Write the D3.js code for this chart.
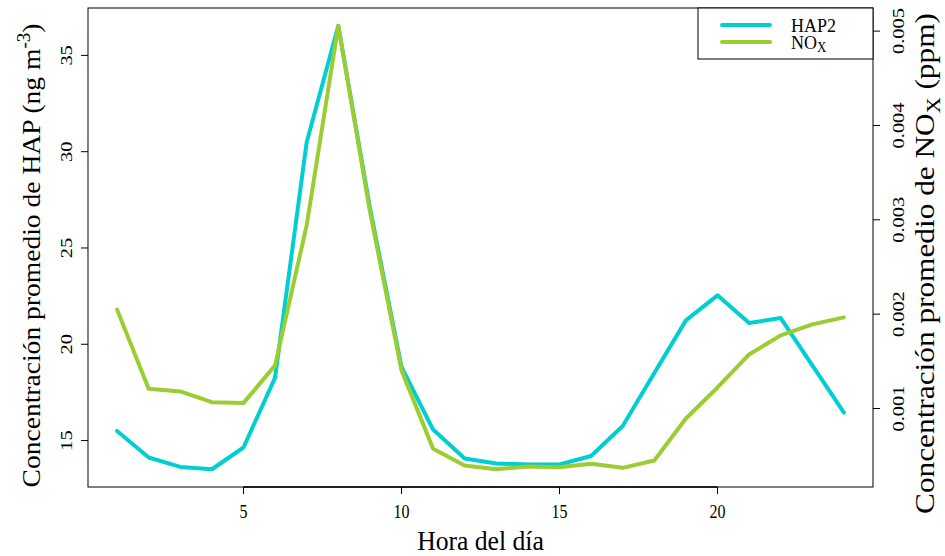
<!DOCTYPE html>
<meta charset="utf-8">
<style>
body { margin: 0; background: white; }
text { font-family: "Liberation Serif", "Times New Roman", serif; fill: black; }
</style>
<script src="https://d3js.org/d3.v7.min.js"></script>
<body>
<div id="chart"></div>
<script>
// data
var hours = [1,2,3,4,5,6,7,8,9,10,11,12,13,14,15,16,17,18,19,20,21,22,23,24];
var hap2 = [15.50,14.12,13.63,13.51,14.64,18.27,30.49,36.54,27.10,18.82,15.57,14.07,
            13.81,13.76,13.76,14.20,15.76,18.51,21.24,22.54,21.10,21.36,18.91,16.45];
var nox = [0.002048,0.001209,0.001181,0.001067,0.001057,0.001457,0.002942,0.005057,
           0.003091,0.001404,0.000573,0.000395,0.000356,0.000385,0.000377,0.000414,
           0.000371,0.000449,0.000894,0.001223,0.001573,0.001775,0.001892,0.001966];
var xTicks = [5,10,15,20];
var hapTicks = [15,20,25,30,35];
var noxTicks = [0.001,0.002,0.003,0.004,0.005];

var W = 945, H = 556;
var margin = {top: 8, right: 72, bottom: 69, left: 88},
    width = W - margin.left - margin.right,
    height = H - margin.top - margin.bottom;

// the original png is a bit stretched vertically, so text is too
var sy = 1.2;

// R style 4% padding on each side
function pad(ext) {
  var d = (ext[1] - ext[0]) * 0.04;
  return [ext[0] - d, ext[1] + d];
}

var svg = d3.select("#chart").append("svg")
    .attr("width", W)
    .attr("height", H);
var g = svg.append("g")
    .attr("transform", "translate(" + margin.left + "," + margin.top + ")");

var x = d3.scaleLinear().domain(pad(d3.extent(hours))).range([0, width]);
var yL = d3.scaleLinear().domain(pad(d3.extent(hap2))).range([height, 0]);
var yR = d3.scaleLinear().domain(pad(d3.extent(nox))).range([height, 0]);

// lines
var hapLine = d3.line().x(function(d, i) { return x(hours[i]); }).y(function(d) { return yL(d); });
var noxLine = d3.line().x(function(d, i) { return x(hours[i]); }).y(function(d) { return yR(d); });

g.append("path").datum(hap2)
  .attr("fill", "none").attr("stroke", "#00CED1").attr("stroke-width", 4)
  .attr("stroke-linejoin", "round").attr("stroke-linecap", "round")
  .attr("d", hapLine);
g.append("path").datum(nox)
  .attr("fill", "none").attr("stroke", "#9ACD32").attr("stroke-width", 4)
  .attr("stroke-linejoin", "round").attr("stroke-linecap", "round")
  .attr("d", noxLine);

// box
g.append("rect")
  .attr("x", 0).attr("y", 0).attr("width", width).attr("height", height)
  .attr("fill", "none").attr("stroke", "black").attr("stroke-width", 1);

// x axis (only spans the ticks, like base R)
var xAxis = g.append("g").attr("transform", "translate(0," + height + ")");
xAxis.append("line")
  .attr("x1", x(xTicks[0])).attr("x2", x(xTicks[xTicks.length - 1]))
  .attr("stroke", "black").attr("stroke-width", 1.5);
xAxis.selectAll(".tk").data(xTicks).enter().append("line")
  .attr("x1", function(d) { return x(d); }).attr("x2", function(d) { return x(d); })
  .attr("y1", 0).attr("y2", 7).attr("stroke", "black");
xAxis.selectAll(".lb").data(xTicks).enter().append("text")
  .attr("transform", function(d) { return "translate(" + x(d) + ",31) scale(1," + sy + ")"; })
  .attr("text-anchor", "middle").style("font-size", "16px")
  .text(function(d) { return d; });

// left axis
var lAxis = g.append("g");
lAxis.selectAll(".tk").data(hapTicks).enter().append("line")
  .attr("x1", -7).attr("x2", 0)
  .attr("y1", function(d) { return yL(d); }).attr("y2", function(d) { return yL(d); })
  .attr("stroke", "black");
lAxis.selectAll(".lb").data(hapTicks).enter().append("text")
  .attr("transform", function(d) { return "translate(-16," + yL(d) + ") rotate(-90) scale(" + sy + ",1)"; })
  .attr("text-anchor", "middle").style("font-size", "17px")
  .text(function(d) { return d; });

// right axis
var rAxis = g.append("g").attr("transform", "translate(" + width + ",0)");
rAxis.selectAll(".tk").data(noxTicks).enter().append("line")
  .attr("x1", 0).attr("x2", 7)
  .attr("y1", function(d) { return yR(d); }).attr("y2", function(d) { return yR(d); })
  .attr("stroke", "black");
rAxis.selectAll(".lb").data(noxTicks).enter().append("text")
  .attr("transform", function(d) { return "translate(30.5," + yR(d) + ") rotate(-90) scale(" + sy + ",1)"; })
  .attr("text-anchor", "middle").style("font-size", "17px")
  .text(function(d) { return d3.format(".3f")(d); });

// axis titles
g.append("text")
  .attr("transform", "translate(" + (width / 2) + "," + (height + 62.5) + ") scale(0.95,1.05)")
  .attr("text-anchor", "middle").style("font-size", "27px")
  .text("Hora del día");

var lt = g.append("text")
  .attr("transform", "translate(-48," + (height / 2 + 8) + ") rotate(-90) scale(1.06,1)")
  .attr("text-anchor", "middle").style("font-size", "26px");
lt.append("tspan").text("Concentración promedio de HAP (ng m");
lt.append("tspan").attr("dy", -10).style("font-size", "18px").text("-3");
lt.append("tspan").attr("dy", 10).text(")");

var rt = g.append("text")
  .attr("transform", "translate(" + (width + 61) + "," + (height / 2 + 16) + ") rotate(-90) scale(1.16,1)")
  .attr("text-anchor", "middle").style("font-size", "27px");
rt.append("tspan").text("Concentración promedio de NO");
rt.append("tspan").attr("dy", 6).style("font-size", "19px").text("X");
rt.append("tspan").attr("dy", -6).text(" (ppm)");

// legend
var legW = 175, legH = 51;
var leg = g.append("g").attr("transform", "translate(" + (width - legW) + ",0)");
leg.append("rect")
  .attr("width", legW).attr("height", legH)
  .attr("fill", "white").attr("stroke", "black");
var legItems = [{name: "HAP2", color: "#00CED1"}, {name: "NO", sub: "X", color: "#9ACD32"}];
legItems.forEach(function(it, i) {
  var yy = 17 + i * 17;
  leg.append("line")
    .attr("x1", 24).attr("x2", 72).attr("y1", yy).attr("y2", yy)
    .attr("stroke", it.color).attr("stroke-width", 4).attr("stroke-linecap", "round");
  var t = leg.append("text")
    .attr("transform", "translate(93," + (yy + 6.5) + ") scale(1,1.1)")
    .style("font-size", "18px");
  t.append("tspan").text(it.name);
  if (it.sub) t.append("tspan").attr("dy", 3).style("font-size", "13px").text(it.sub);
});
</script>
</body>
